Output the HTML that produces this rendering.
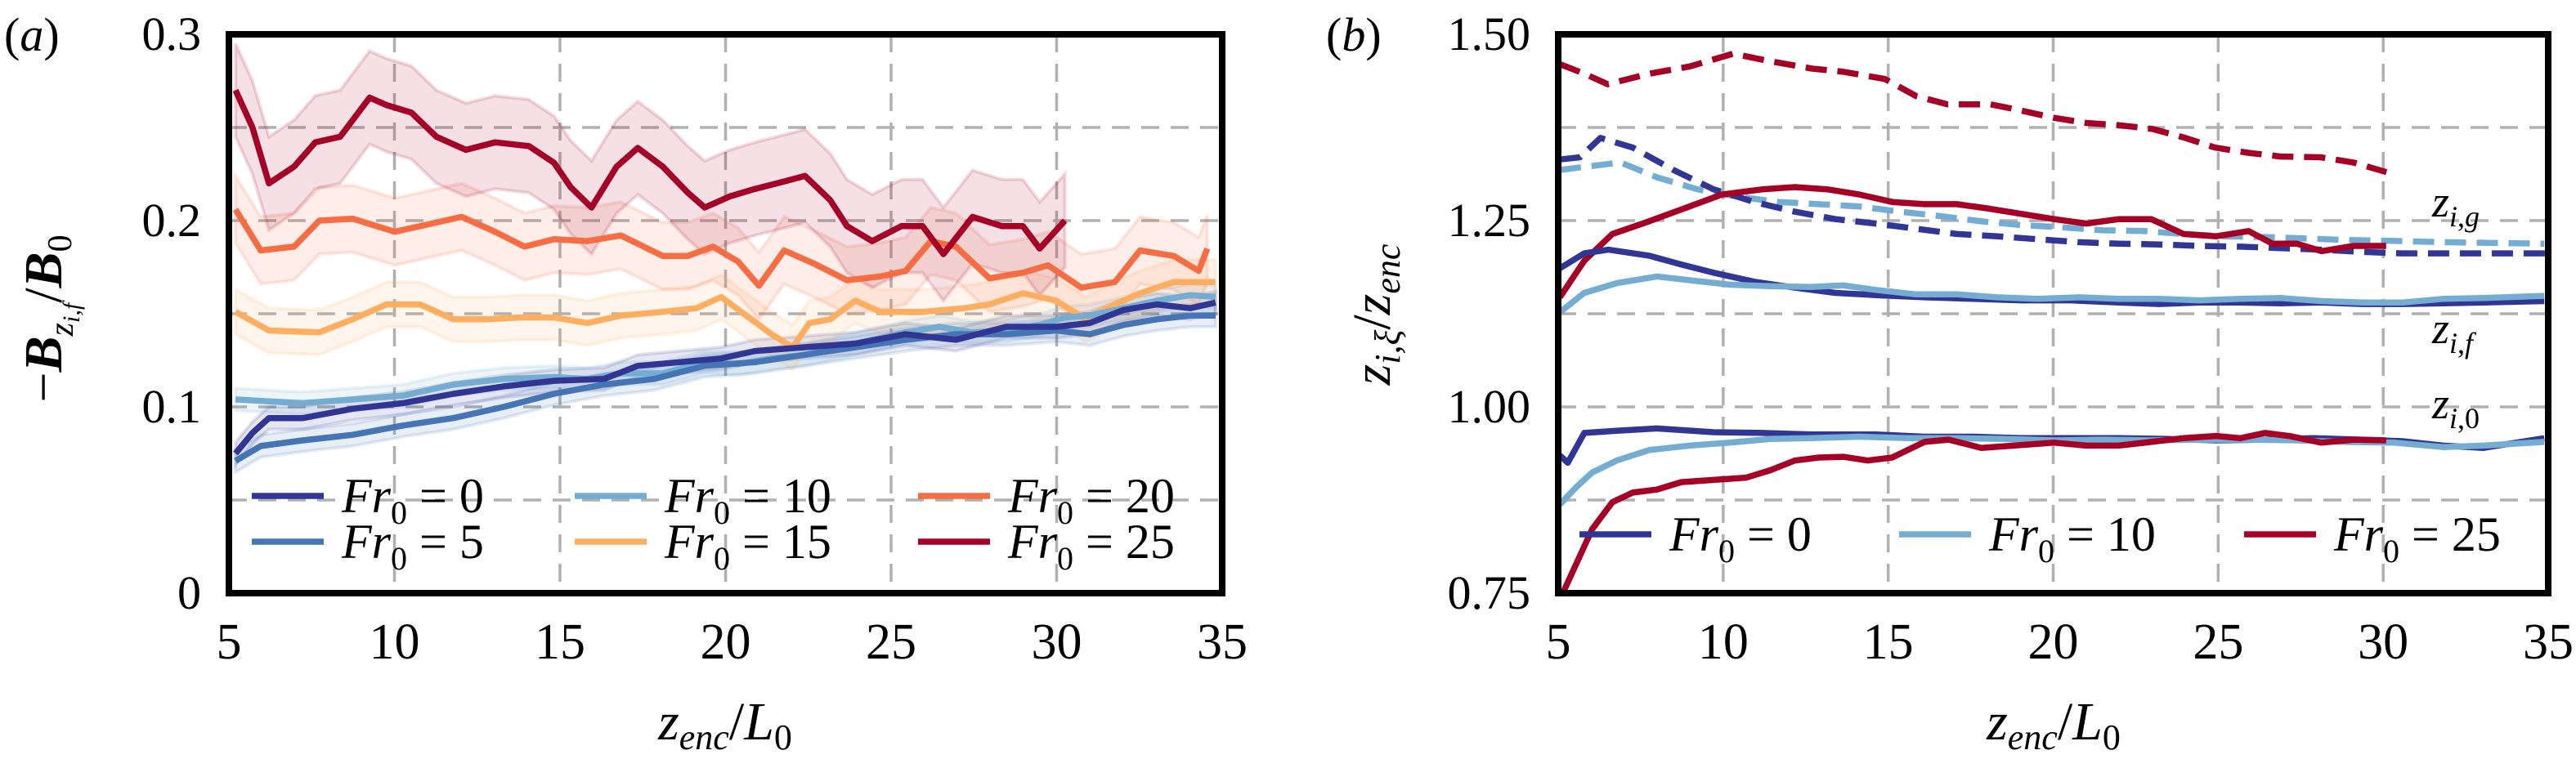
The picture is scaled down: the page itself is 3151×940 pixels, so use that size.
<!DOCTYPE html>
<html><head><meta charset="utf-8">
<style>
html,body{margin:0;padding:0;background:#fff;}
svg{display:block;}
svg text, svg tspan{font-family:"Liberation Serif","DejaVu Serif","Noto Serif CJK SC",serif !important;}
</style></head>
<body>
<svg id="fig" width="3151" height="940" viewBox="0 0 3151 940" xmlns="http://www.w3.org/2000/svg"></svg>
<script>
// ---------- Panel (a) data ----------
const aFr0X=[5.2,5.71,6.21,7.23,8.74,10.26,11.78,13.3,14.82,16.33,17.35,18.61,19.87,20.89,22.4,23.92,25.44,26.96,28.48,29.99,31.0,32.02,33.03,34.04,34.8];
const aFr0Y=[0.075,0.086,0.094,0.094,0.099,0.102,0.107,0.111,0.114,0.115,0.122,0.124,0.126,0.13,0.132,0.134,0.139,0.136,0.143,0.143,0.145,0.152,0.155,0.153,0.156];
const aFr5X=[5.2,5.96,7.23,8.74,10.26,11.78,13.3,14.82,16.33,17.85,19.37,20.89,22.4,23.92,25.44,26.96,28.48,29.99,31.0,32.02,33.03,34.04,34.8];
const aFr5Y=[0.071,0.079,0.082,0.085,0.09,0.094,0.1,0.107,0.112,0.115,0.122,0.124,0.128,0.132,0.136,0.139,0.139,0.141,0.139,0.144,0.147,0.149,0.149];
const aFr10X=[5.2,6.21,7.23,8.74,10.26,11.78,13.3,14.82,15.83,16.84,18.1,19.37,20.38,21.39,22.4,23.42,24.43,25.44,26.45,27.46,28.48,29.49,30.25,31.0,32.02,33.03,34.04,34.8];
const aFr10Y=[0.104,0.103,0.102,0.104,0.106,0.112,0.115,0.116,0.115,0.118,0.118,0.124,0.123,0.126,0.128,0.132,0.136,0.14,0.143,0.14,0.141,0.144,0.148,0.149,0.153,0.157,0.16,0.159];
const aFr15X=[5.2,6.21,7.73,8.74,9.76,10.77,11.78,12.79,13.8,14.82,15.83,16.84,18.1,19.12,19.87,20.63,21.39,22.03,22.53,23.16,23.92,24.68,25.95,27.21,27.97,28.98,29.99,30.88,31.76,32.52,33.54,34.8];
const aFr15Y=[0.151,0.141,0.14,0.147,0.155,0.155,0.147,0.147,0.148,0.148,0.145,0.149,0.151,0.153,0.159,0.149,0.139,0.132,0.145,0.147,0.157,0.151,0.151,0.153,0.155,0.161,0.157,0.147,0.155,0.161,0.167,0.167];
const aFr20X=[5.2,5.96,6.97,7.73,8.74,10.01,11.02,12.03,13.04,13.93,14.82,15.83,16.84,18.1,18.86,19.62,20.38,21.01,21.77,22.66,23.67,24.68,25.44,26.2,26.96,27.97,28.98,29.74,30.75,31.76,32.52,33.54,34.29,34.55];
const aFr20Y=[0.206,0.184,0.186,0.2,0.201,0.194,0.198,0.202,0.194,0.186,0.19,0.189,0.192,0.181,0.181,0.186,0.178,0.165,0.184,0.177,0.168,0.17,0.173,0.189,0.186,0.169,0.172,0.176,0.164,0.167,0.184,0.181,0.173,0.185];
const aFr25X=[5.2,5.71,6.21,6.97,7.61,8.36,9.25,9.76,10.51,11.27,12.16,13.04,14.06,14.82,15.32,15.95,16.71,17.35,18.1,18.86,19.37,20.13,20.89,21.77,22.4,23.16,23.67,24.43,25.31,25.95,26.58,27.46,28.35,28.98,29.49,30.25];
const aFr25Y=[0.27,0.25,0.22,0.229,0.242,0.245,0.266,0.262,0.258,0.245,0.238,0.242,0.24,0.231,0.218,0.207,0.229,0.239,0.229,0.215,0.207,0.213,0.217,0.221,0.224,0.211,0.197,0.189,0.197,0.197,0.182,0.202,0.197,0.197,0.185,0.2];
const aSpread=[0.006,0.006,0.006,0.012,0.018,0.025];
const aLabels=["0","5","10","15","20","25"];
const xTicks=[5,10,15,20,25,30,35];
const aYTicks=[0,0.1,0.2,0.3];
const aYTickLabels=["0","0.1","0.2","0.3"];
const aYGrid=[0.05,0.1,0.15,0.2,0.25];

// ---------- Panel (b) data ----------
const bG25X=[5.05,5.8,6.5,7.75,9.0,10.3,11.4,12.7,13.6,14.9,15.85,16.8,18.1,19.0,20.0,21.0,22.0,23.0,24.0,24.9,25.9,26.9,28.1,29.1,30.1];
const bG25Y=[1.46,1.447,1.433,1.447,1.457,1.474,1.464,1.454,1.45,1.44,1.417,1.406,1.406,1.398,1.388,1.381,1.378,1.373,1.361,1.348,1.341,1.336,1.335,1.328,1.315];
const bG0X=[5.05,5.66,6.28,7.26,8.49,9.71,10.94,12.17,13.4,14.62,15.85,17.08,18.3,19.53,20.76,21.99,23.22,24.44,25.67,26.9,28.13,29.36,30.58,31.81,33.04,34.9];
const bG0Y=[1.332,1.335,1.361,1.348,1.318,1.292,1.275,1.262,1.252,1.246,1.239,1.232,1.229,1.225,1.221,1.219,1.218,1.216,1.215,1.213,1.211,1.208,1.206,1.206,1.206,1.206];
const bG10X=[5.05,5.79,6.89,8.0,9.22,10.45,11.68,12.9,14.13,15.36,16.59,17.82,19.04,20.27,21.5,22.73,23.95,25.18,26.41,27.64,28.86,30.09,31.81,34.88];
const bG10Y=[1.318,1.322,1.328,1.308,1.292,1.282,1.275,1.272,1.269,1.262,1.256,1.249,1.244,1.241,1.237,1.236,1.232,1.229,1.228,1.226,1.224,1.223,1.221,1.219];
const bF25X=[5.05,5.79,6.64,7.75,8.98,9.96,11.19,12.17,13.15,14.13,15.12,16.1,17.08,18.06,19.04,20.03,21.0,21.99,22.97,23.95,24.94,25.92,26.65,27.39,28.13,29.11,30.09];
const bF25Y=[1.147,1.196,1.232,1.249,1.269,1.285,1.292,1.295,1.292,1.285,1.275,1.272,1.272,1.266,1.259,1.252,1.246,1.252,1.252,1.232,1.229,1.236,1.219,1.219,1.209,1.216,1.216];
const bF0X=[5.05,5.79,6.52,7.75,8.73,9.71,10.94,12.17,13.4,14.62,16.1,17.57,19.04,20.52,21.99,23.22,24.44,25.67,26.9,28.13,29.36,30.58,31.81,33.04,34.88];
const bF0Y=[1.186,1.206,1.211,1.203,1.191,1.18,1.168,1.16,1.153,1.15,1.147,1.145,1.143,1.143,1.14,1.138,1.14,1.14,1.139,1.14,1.138,1.138,1.139,1.14,1.142];
const bF10X=[5.05,5.79,6.77,7.99,8.98,10.2,11.43,12.66,13.64,14.62,15.85,17.08,18.31,19.53,20.76,21.99,23.22,24.44,25.67,26.9,28.13,29.36,30.58,31.81,33.04,34.88];
const bF10Y=[1.127,1.153,1.166,1.175,1.17,1.164,1.162,1.161,1.163,1.157,1.151,1.151,1.147,1.145,1.147,1.145,1.145,1.143,1.145,1.146,1.142,1.14,1.14,1.145,1.146,1.149];
const b00X=[5.05,5.29,5.79,6.77,7.99,9.71,11.19,12.66,14.62,16.1,17.57,19.04,20.52,21.99,23.46,24.94,26.41,27.88,29.36,30.58,31.81,33.04,34.02,34.88];
const b00Y=[0.935,0.925,0.965,0.968,0.971,0.966,0.965,0.963,0.963,0.96,0.96,0.958,0.958,0.958,0.957,0.955,0.956,0.958,0.956,0.954,0.948,0.945,0.952,0.958];
const b010X=[5.05,5.54,6.03,6.77,7.75,8.98,10.2,11.43,12.66,14.13,15.61,17.08,18.55,20.03,21.5,22.97,24.44,25.92,27.39,28.86,30.34,31.81,33.04,34.88];
const b010Y=[0.869,0.892,0.912,0.928,0.942,0.948,0.952,0.957,0.958,0.96,0.958,0.958,0.957,0.955,0.956,0.955,0.956,0.956,0.955,0.953,0.952,0.946,0.948,0.953];
const b025X=[5.17,6.03,6.64,7.26,7.99,8.73,9.71,10.7,11.43,12.17,12.9,13.64,14.38,15.12,16.1,16.83,17.82,18.8,20.03,21.0,21.99,22.97,23.95,24.94,25.67,26.41,27.15,28.13,29.11,30.09];
const b025Y=[0.753,0.836,0.872,0.885,0.889,0.899,0.902,0.905,0.915,0.928,0.932,0.933,0.928,0.932,0.953,0.956,0.945,0.948,0.952,0.948,0.948,0.953,0.958,0.961,0.958,0.965,0.961,0.952,0.956,0.955];
const bYTicks=[0.75,1.0,1.25,1.5];
const bYTickLabels=["0.75","1.00","1.25","1.50"];
const bYGrid=[0.875,1.0,1.125,1.25,1.375];

const C0="#313695",C5="#4575b4",C10="#74add1",C15="#fdae61",C20="#f46d43",C25="#a50026";
const NS="http://www.w3.org/2000/svg";
const FF="'Liberation Serif','DejaVu Serif',serif";
const svg=document.getElementById('fig');
function el(tag,attrs,parent){const e=document.createElementNS(NS,tag);for(const k in attrs)e.setAttribute(k,attrs[k]);if(tag==='text')e.setAttribute('font-family',FF);(parent||svg).appendChild(e);return e;}

const A={x0:280,x1:1495,y0:726,y1:42,xmin:5,xmax:35,ymin:0,ymax:0.3};
const B={x0:1906,x1:3117,y0:726,y1:42,xmin:5,xmax:35,ymin:0.75,ymax:1.5};
function sx(ax,v){return ax.x0+(v-ax.xmin)/(ax.xmax-ax.xmin)*(ax.x1-ax.x0);}
function sy(ax,v){return ax.y0-(v-ax.ymin)/(ax.ymax-ax.ymin)*(ax.y0-ax.y1);}
function pathOf(ax,xs,ys){return xs.map((x,i)=>(i?'L':'M')+sx(ax,x).toFixed(1)+' '+sy(ax,ys[i]).toFixed(1)).join(' ');}

function drawGrid(ax,grid,name){
  const g=el('g',{});
  
  
  xTicks.slice(1,-1).forEach(t=>{const l=el('line',{x1:sx(ax,t),x2:sx(ax,t),y1:ax.y1,y2:ax.y0,stroke:'#b0b0b0','stroke-width':3.5,'stroke-dasharray':'22 14'},g);
    });
  grid.forEach(t=>{const l=el('line',{x1:ax.x0,x2:ax.x1,y1:sy(ax,t),y2:sy(ax,t),stroke:'#b0b0b0','stroke-width':3.5,'stroke-dasharray':'22 14'},g);
    });
}
function clip(ax,id){const d=el('defs',{});const c=el('clipPath',{id:id},d);el('rect',{x:ax.x0,y:ax.y1,width:ax.x1-ax.x0,height:ax.y0-ax.y1},c);}
function drawFrame(ax,name,yt,ytl){
  const r=el('rect',{x:ax.x0,y:ax.y1,width:ax.x1-ax.x0,height:ax.y0-ax.y1,fill:'none',stroke:'#000','stroke-width':8});
  
  xTicks.forEach(t=>{const tx=el('text',{x:sx(ax,t),y:806,'font-size':62,'text-anchor':'middle'});tx.textContent=t;
    });
  yt.forEach((t,i)=>{const tx=el('text',{x:ax.x0-34,y:sy(ax,t)+19,'font-size':58,'text-anchor':'end'});tx.textContent=ytl[i];
    });
}
function line(ax,xs,ys,col,cid,name,dash){
  const p=el('path',{d:pathOf(ax,xs,ys),fill:'none',stroke:col,'stroke-width':7.5,'stroke-linejoin':'round','clip-path':'url(#'+cid+')'});
  if(dash)p.setAttribute('stroke-dasharray',dash);
  
}
function band(ax,xs,ys,s,col,cid,name){
  const up=xs.map((x,i)=>sx(ax,x).toFixed(1)+' '+sy(ax,ys[i]+s).toFixed(1));
  const dn=xs.map((x,i)=>sx(ax,x).toFixed(1)+' '+sy(ax,ys[i]-s).toFixed(1)).reverse();
  const p=el('path',{d:'M'+up.join(' L')+' L'+dn.join(' L')+' Z',fill:col,'fill-opacity':0.12,stroke:col,'stroke-opacity':0.15,'stroke-width':4,'clip-path':'url(#'+cid+')'});
  
}
function frLabel(x,y,v,parent){
  const t=el('text',{x:x,y:y,'font-size':60},parent);
  t.innerHTML='<tspan font-style="italic">Fr</tspan><tspan font-size="40" dy="14">0</tspan><tspan dy="-14"> = '+v+'</tspan>';
  return t;
}

// ----- Panel a -----
clip(A,'ca');
drawGrid(A,aYGrid,'panel-a');
const aSeries=[[aFr0X,aFr0Y,C0],[aFr5X,aFr5Y,C5],[aFr10X,aFr10Y,C10],[aFr15X,aFr15Y,C15],[aFr20X,aFr20Y,C20],[aFr25X,aFr25Y,C25]];
aSeries.forEach((s,i)=>band(A,s[0],s[1],aSpread[i],s[2],'ca','band-fr'+aLabels[i]));
[3,4,5,2,1,0].forEach(i=>{const s=aSeries[i];line(A,s[0],s[1],s[2],'ca','line-fr'+aLabels[i]);});
const legA=el('g',{});
const legApos=[[308,607],[308,663],[703,607],[703,663],[1123,607],[1123,663]];
aSeries.forEach((s,i)=>{
  const [lx,ly]=legApos[i];
  const g=el('g',{},legA);
  el('line',{x1:lx,x2:lx+88,y1:ly,y2:ly,stroke:s[2],'stroke-width':7.5},g);
  frLabel(lx+110,ly+20,aLabels[i],g);
});
drawFrame(A,'panel-a',aYTicks,aYTickLabels);
let t=el('text',{x:5,y:62,'font-size':58});t.innerHTML='(<tspan font-style="italic">a</tspan>)';

t=el('text',{x:0,y:0,'font-size':66,'text-anchor':'middle',transform:'translate(75,390) rotate(-90)'});
t.innerHTML='−<tspan font-weight="bold" font-style="italic">B</tspan><tspan font-style="italic" font-size="42" dy="14">z</tspan><tspan font-style="italic" font-size="30" dy="8">i,f</tspan><tspan dy="-22">/</tspan><tspan font-weight="bold" font-style="italic">B</tspan><tspan font-size="42" dy="12">0</tspan>';

t=el('text',{x:887,y:905,'font-size':66,'text-anchor':'middle'});
t.innerHTML='<tspan font-style="italic">z</tspan><tspan font-style="italic" font-size="44" dy="12">enc</tspan><tspan dy="-12">/</tspan><tspan font-style="italic">L</tspan><tspan font-size="44" dy="12">0</tspan>';


// ----- Panel b -----
clip(B,'cb');
drawGrid(B,bYGrid,'panel-b');
const DASH='26 13';
line(B,bG25X,bG25Y,C25,'cb','line-zig-fr25',DASH);
line(B,bG10X,bG10Y,C10,'cb','line-zig-fr10',DASH);
line(B,bG0X,bG0Y,C0,'cb','line-zig-fr0',DASH);
line(B,bF25X,bF25Y,C25,'cb','line-zif-fr25');
line(B,bF0X,bF0Y,C0,'cb','line-zif-fr0');
line(B,bF10X,bF10Y,C10,'cb','line-zif-fr10');
line(B,b00X,b00Y,C0,'cb','line-zi0-fr0');
line(B,b010X,b010Y,C10,'cb','line-zi0-fr10');
line(B,b025X,b025Y,C25,'cb','line-zi0-fr25');
const legB=el('g',{});
const legBdata=[[1932,C0,'0'],[2323,C10,'10'],[2745,C25,'25']];
legBdata.forEach(d=>{
  const g=el('g',{},legB);
  el('line',{x1:d[0],x2:d[0]+88,y1:654,y2:654,stroke:d[1],'stroke-width':7.5},g);
  frLabel(d[0]+110,674,d[2],g);
});
[['g',265],['f',420],['0',512]].forEach(a=>{
  const tt=el('text',{x:2975,y:a[1],'font-size':54});
  tt.innerHTML='<tspan font-style="italic">z</tspan><tspan font-size="36" dy="12"><tspan font-style="italic">i</tspan>,'+(a[0]==='0'?'0':'<tspan font-style="italic">'+a[0]+'</tspan>')+'</tspan>';
  
});
drawFrame(B,'panel-b',bYTicks,bYTickLabels);
t=el('text',{x:1622,y:62,'font-size':58});t.innerHTML='(<tspan font-style="italic">b</tspan>)';

t=el('text',{x:0,y:0,'font-size':66,'text-anchor':'middle',transform:'translate(1700,385) rotate(-90)'});
t.innerHTML='<tspan font-style="italic">z</tspan><tspan font-style="italic" font-size="44" dy="12">i,ξ</tspan><tspan dy="-12">/</tspan><tspan font-style="italic">z</tspan><tspan font-style="italic" font-size="44" dy="12">enc</tspan>';

t=el('text',{x:2512,y:905,'font-size':66,'text-anchor':'middle'});
t.innerHTML='<tspan font-style="italic">z</tspan><tspan font-style="italic" font-size="44" dy="12">enc</tspan><tspan dy="-12">/</tspan><tspan font-style="italic">L</tspan><tspan font-size="44" dy="12">0</tspan>';

</script>
</body></html>
